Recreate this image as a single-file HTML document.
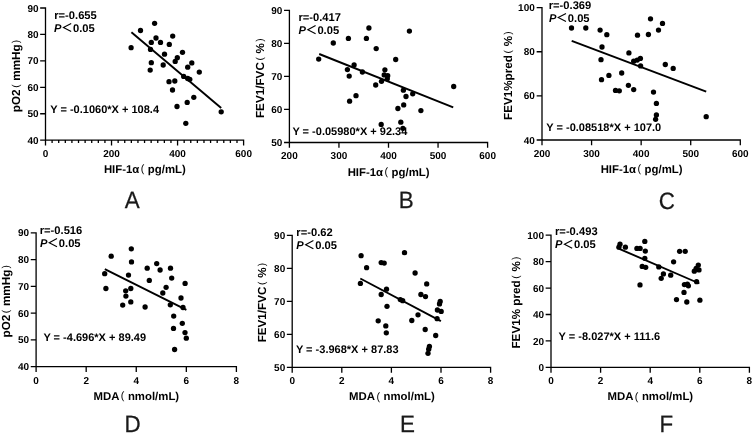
<!DOCTYPE html>
<html><head><meta charset="utf-8"><style>
html,body{margin:0;padding:0;background:#fff;}
body{width:753px;height:433px;overflow:hidden;}
svg{display:block;}
text{font-family:"Liberation Sans", sans-serif;fill:#000;}
.t{font-size:10px;font-weight:bold;}
.a{font-size:11.2px;font-weight:bold;}
.eq{font-size:11.02px;font-weight:bold;}
.xt{font-size:11.4px;font-weight:bold;}
.yt{font-size:11.7px;font-weight:bold;}
.fp{font-weight:normal;font-size:10.8px;}
.fpy{font-weight:normal;font-size:10px;}
.L{font-size:23.6px;font-weight:normal;fill:#1e1815;stroke:#1e1815;stroke-width:0.25px;}
</style></head><body>
<svg width="753" height="433" viewBox="0 0 753 433" style="filter:grayscale(1)">
<rect width="753" height="433" fill="#fff"/>
<path d="M45.5 8V144.9M40.8 140.2H243.6M40.8 140.2H45.5M40.8 113.76H45.5M40.8 87.32H45.5M40.8 60.88H45.5M40.8 34.44H45.5M40.8 8H45.5M45.5 140.2V144.9M111.53 140.2V144.9M177.57 140.2V144.9M243.6 140.2V144.9M52.1 140.2V142.3M58.71 140.2V142.3M65.31 140.2V142.3M71.91 140.2V142.3M78.52 140.2V142.3M85.12 140.2V142.3M91.72 140.2V142.3M98.33 140.2V142.3M104.93 140.2V142.3M118.14 140.2V142.3M124.74 140.2V142.3M131.34 140.2V142.3M137.95 140.2V142.3M144.55 140.2V142.3M151.15 140.2V142.3M157.76 140.2V142.3M164.36 140.2V142.3M170.96 140.2V142.3M184.17 140.2V142.3M190.77 140.2V142.3M197.38 140.2V142.3M203.98 140.2V142.3M210.58 140.2V142.3M217.19 140.2V142.3M223.79 140.2V142.3M230.39 140.2V142.3M237 140.2V142.3" fill="none" stroke="#000" stroke-width="1.3" stroke-linecap="square"/>
<path d="M131.4 32.2L221.2 108" stroke="#000" stroke-width="1.9" fill="none"/>
<circle cx="154.6" cy="23.3" r="2.65"/>
<circle cx="140.5" cy="30.5" r="2.65"/>
<circle cx="172.7" cy="36.1" r="2.65"/>
<circle cx="156" cy="38" r="2.65"/>
<circle cx="151.3" cy="42.4" r="2.65"/>
<circle cx="160.5" cy="42.4" r="2.65"/>
<circle cx="169.3" cy="44.4" r="2.65"/>
<circle cx="131.1" cy="47.7" r="2.65"/>
<circle cx="150.5" cy="49.4" r="2.65"/>
<circle cx="164.5" cy="54.2" r="2.65"/>
<circle cx="182.5" cy="52.3" r="2.65"/>
<circle cx="177.3" cy="57.7" r="2.65"/>
<circle cx="175.2" cy="61.4" r="2.65"/>
<circle cx="151.3" cy="62.7" r="2.65"/>
<circle cx="191.8" cy="62.9" r="2.65"/>
<circle cx="163.2" cy="65" r="2.65"/>
<circle cx="187.7" cy="67.2" r="2.65"/>
<circle cx="150.2" cy="70.1" r="2.65"/>
<circle cx="199.3" cy="72.1" r="2.65"/>
<circle cx="183.7" cy="76.4" r="2.65"/>
<circle cx="187.7" cy="78.5" r="2.65"/>
<circle cx="189.8" cy="79.3" r="2.65"/>
<circle cx="169" cy="81.7" r="2.65"/>
<circle cx="174.8" cy="81" r="2.65"/>
<circle cx="172.5" cy="90" r="2.65"/>
<circle cx="193.8" cy="97.3" r="2.65"/>
<circle cx="187.2" cy="102.4" r="2.65"/>
<circle cx="177" cy="106.5" r="2.65"/>
<circle cx="221.2" cy="111.8" r="2.65"/>
<circle cx="185.8" cy="123.3" r="2.65"/>
<text class="t" transform="matrix(1 0 0.001 1 38.5 143.75)" text-anchor="end">40</text>
<text class="t" transform="matrix(1 0 0.001 1 38.5 117.31)" text-anchor="end">50</text>
<text class="t" transform="matrix(1 0 0.001 1 38.5 90.87)" text-anchor="end">60</text>
<text class="t" transform="matrix(1 0 0.001 1 38.5 64.43)" text-anchor="end">70</text>
<text class="t" transform="matrix(1 0 0.001 1 38.5 37.99)" text-anchor="end">80</text>
<text class="t" transform="matrix(1 0 0.001 1 38.5 11.55)" text-anchor="end">90</text>
<text class="t" transform="matrix(1 0 0.001 1 45.5 157)" text-anchor="middle">0</text>
<text class="t" transform="matrix(1 0 0.001 1 111.53 157)" text-anchor="middle">200</text>
<text class="t" transform="matrix(1 0 0.001 1 177.57 157)" text-anchor="middle">400</text>
<text class="t" transform="matrix(1 0 0.001 1 243.6 157)" text-anchor="middle">600</text>
<text class="a" transform="matrix(1 0 0.001 1 54.2 18.9)">r=-0.655</text>
<text class="a" transform="matrix(1 0 0.001 1 54.1 31.6)"><tspan font-style="italic">P</tspan></text>
<path d="M71.2 23.4L63.4 27.45L71.2 31.5" fill="none" stroke="#000" stroke-width="1.1"/>
<text class="a" transform="matrix(1 0 0.001 1 73 31.6)">0.05</text>
<text class="eq" transform="matrix(1 0 0.001 1 50.2 112.6)">Y = -0.1060*X + 108.4</text>
<text class="xt" transform="matrix(1 0 0.001 1 144.85 172.5)" text-anchor="middle">HIF-1α<tspan class="fp" dx="1.4" dy="-0.7">(</tspan><tspan dx="3.5" dy="0.7">pg/mL)</tspan></text>
<text class="yt" transform="matrix(0 -1 1 -0.001 19.9 76)" text-anchor="middle">pO2<tspan class="fpy" dx="1.6" dy="-1.0">(</tspan><tspan dx="3.8" dy="1.0">mmHg</tspan><tspan class="fpy" dx="1.2" dy="-1.0">)</tspan></text>
<text class="L" transform="matrix(0.95 0 0.001 1 132.3 208.4)" text-anchor="middle">A</text>
<path d="M289.4 10.4V147.2M284.7 142.5H487.6M284.7 142.5H289.4M284.7 109.47H289.4M284.7 76.45H289.4M284.7 43.42H289.4M284.7 10.4H289.4M289.4 142.5V147.2M338.95 142.5V147.2M388.5 142.5V147.2M438.05 142.5V147.2M487.6 142.5V147.2" fill="none" stroke="#000" stroke-width="1.3" stroke-linecap="square"/>
<path d="M319.2 54L453.2 107.4" stroke="#000" stroke-width="1.9" fill="none"/>
<circle cx="368.9" cy="28" r="2.65"/>
<circle cx="348.4" cy="38.4" r="2.65"/>
<circle cx="366.4" cy="38.4" r="2.65"/>
<circle cx="333.3" cy="43" r="2.65"/>
<circle cx="376.2" cy="48.6" r="2.65"/>
<circle cx="318.7" cy="59.1" r="2.65"/>
<circle cx="395.7" cy="59.5" r="2.65"/>
<circle cx="354.1" cy="65" r="2.65"/>
<circle cx="347.4" cy="69.6" r="2.65"/>
<circle cx="362.4" cy="72" r="2.65"/>
<circle cx="349.2" cy="76.1" r="2.65"/>
<circle cx="384.9" cy="69.8" r="2.65"/>
<circle cx="384.2" cy="74.9" r="2.65"/>
<circle cx="387.7" cy="75.7" r="2.65"/>
<circle cx="387.3" cy="78.8" r="2.65"/>
<circle cx="381.5" cy="81.3" r="2.65"/>
<circle cx="375.7" cy="85" r="2.65"/>
<circle cx="403.4" cy="90.2" r="2.65"/>
<circle cx="412.7" cy="93.8" r="2.65"/>
<circle cx="406" cy="96.5" r="2.65"/>
<circle cx="453.7" cy="86.5" r="2.65"/>
<circle cx="403.7" cy="104.9" r="2.65"/>
<circle cx="397.9" cy="108.5" r="2.65"/>
<circle cx="420.9" cy="110.6" r="2.65"/>
<circle cx="356" cy="95.7" r="2.65"/>
<circle cx="349.6" cy="101.2" r="2.65"/>
<circle cx="400.8" cy="122.2" r="2.65"/>
<circle cx="381.2" cy="124.4" r="2.65"/>
<circle cx="402.9" cy="128.3" r="2.65"/>
<circle cx="409.4" cy="31.1" r="2.65"/>
<text class="t" transform="matrix(1 0 0.001 1 282.4 146.05)" text-anchor="end">50</text>
<text class="t" transform="matrix(1 0 0.001 1 282.4 113.02)" text-anchor="end">60</text>
<text class="t" transform="matrix(1 0 0.001 1 282.4 80)" text-anchor="end">70</text>
<text class="t" transform="matrix(1 0 0.001 1 282.4 46.97)" text-anchor="end">80</text>
<text class="t" transform="matrix(1 0 0.001 1 282.4 13.95)" text-anchor="end">90</text>
<text class="t" transform="matrix(1 0 0.001 1 289.4 159.3)" text-anchor="middle">200</text>
<text class="t" transform="matrix(1 0 0.001 1 338.95 159.3)" text-anchor="middle">300</text>
<text class="t" transform="matrix(1 0 0.001 1 388.5 159.3)" text-anchor="middle">400</text>
<text class="t" transform="matrix(1 0 0.001 1 438.05 159.3)" text-anchor="middle">500</text>
<text class="t" transform="matrix(1 0 0.001 1 487.6 159.3)" text-anchor="middle">600</text>
<text class="a" transform="matrix(1 0 0.001 1 298.4 20.8)">r=-0.417</text>
<text class="a" transform="matrix(1 0 0.001 1 298.5 33.8)"><tspan font-style="italic">P</tspan></text>
<path d="M315.6 25.6L307.8 29.65L315.6 33.7" fill="none" stroke="#000" stroke-width="1.1"/>
<text class="a" transform="matrix(1 0 0.001 1 317.4 33.8)">0.05</text>
<text class="eq" transform="matrix(1 0 0.001 1 292.4 134.8)">Y = -0.05980*X + 92.34</text>
<text class="xt" transform="matrix(1 0 0.001 1 388.6 175.5)" text-anchor="middle">HIF-1α<tspan class="fp" dx="1.4" dy="-0.7">(</tspan><tspan dx="3.5" dy="0.7">pg/mL)</tspan></text>
<text class="yt" transform="matrix(0 -1 1 -0.001 264 78.25)" text-anchor="middle">FEV1/FVC<tspan class="fpy" dx="1.6" dy="-1.0">(</tspan><tspan dx="3.8" dy="1.0">%</tspan><tspan class="fpy" dx="1.2" dy="-1.0">)</tspan></text>
<text class="L" transform="matrix(0.95 0 0.001 1 406.15 208.3)" text-anchor="middle">B</text>
<path d="M542 7.6V144.7M537.3 140H740.3M537.3 140H542M537.3 95.87H542M537.3 51.73H542M537.3 7.6H542M542 140V144.7M591.58 140V144.7M641.15 140V144.7M690.72 140V144.7M740.3 140V144.7" fill="none" stroke="#000" stroke-width="1.3" stroke-linecap="square"/>
<path d="M571.7 40.8L706.2 91.7" stroke="#000" stroke-width="1.9" fill="none"/>
<circle cx="571.5" cy="28" r="2.65"/>
<circle cx="585.8" cy="28" r="2.65"/>
<circle cx="600.1" cy="30.1" r="2.65"/>
<circle cx="606.8" cy="34.7" r="2.65"/>
<circle cx="650.5" cy="18.8" r="2.65"/>
<circle cx="662.5" cy="23.4" r="2.65"/>
<circle cx="658.5" cy="30.1" r="2.65"/>
<circle cx="637.5" cy="35.2" r="2.65"/>
<circle cx="648.4" cy="34.5" r="2.65"/>
<circle cx="602" cy="47" r="2.65"/>
<circle cx="628.9" cy="52.9" r="2.65"/>
<circle cx="601" cy="59.7" r="2.65"/>
<circle cx="633.7" cy="61.2" r="2.65"/>
<circle cx="637.2" cy="60.1" r="2.65"/>
<circle cx="640.4" cy="58.4" r="2.65"/>
<circle cx="640.6" cy="65.9" r="2.65"/>
<circle cx="665.3" cy="64.5" r="2.65"/>
<circle cx="673.2" cy="68.4" r="2.65"/>
<circle cx="621.7" cy="73" r="2.65"/>
<circle cx="608.9" cy="75.4" r="2.65"/>
<circle cx="601.5" cy="79.7" r="2.65"/>
<circle cx="628.4" cy="85.3" r="2.65"/>
<circle cx="633.7" cy="89.6" r="2.65"/>
<circle cx="615.5" cy="90.4" r="2.65"/>
<circle cx="619.3" cy="90.8" r="2.65"/>
<circle cx="653.5" cy="92.1" r="2.65"/>
<circle cx="656.4" cy="103.4" r="2.65"/>
<circle cx="656.4" cy="115" r="2.65"/>
<circle cx="655.6" cy="119.3" r="2.65"/>
<circle cx="706.2" cy="116.7" r="2.65"/>
<text class="t" transform="matrix(1 0 0.001 1 534.8 143.55)" text-anchor="end">40</text>
<text class="t" transform="matrix(1 0 0.001 1 534.8 99.42)" text-anchor="end">60</text>
<text class="t" transform="matrix(1 0 0.001 1 534.8 55.28)" text-anchor="end">80</text>
<text class="t" transform="matrix(1 0 0.001 1 534.8 11.15)" text-anchor="end">100</text>
<text class="t" transform="matrix(1 0 0.001 1 542 156.8)" text-anchor="middle">200</text>
<text class="t" transform="matrix(1 0 0.001 1 591.58 156.8)" text-anchor="middle">300</text>
<text class="t" transform="matrix(1 0 0.001 1 641.15 156.8)" text-anchor="middle">400</text>
<text class="t" transform="matrix(1 0 0.001 1 690.72 156.8)" text-anchor="middle">500</text>
<text class="t" transform="matrix(1 0 0.001 1 740.3 156.8)" text-anchor="middle">600</text>
<text class="a" transform="matrix(1 0 0.001 1 548.7 8.7)">r=-0.369</text>
<text class="a" transform="matrix(1 0 0.001 1 548.9 21.7)"><tspan font-style="italic">P</tspan></text>
<path d="M566 13.5L558.2 17.55L566 21.6" fill="none" stroke="#000" stroke-width="1.1"/>
<text class="a" transform="matrix(1 0 0.001 1 567.8 21.7)">0.05</text>
<text class="eq" transform="matrix(1 0 0.001 1 546.3 130.7)">Y = -0.08518*X + 107.0</text>
<text class="xt" transform="matrix(1 0 0.001 1 641.6 173)" text-anchor="middle">HIF-1α<tspan class="fp" dx="1.4" dy="-0.7">(</tspan><tspan dx="3.5" dy="0.7">pg/mL)</tspan></text>
<text class="yt" transform="matrix(0 -1 1 -0.001 512.3 75.7)" text-anchor="middle">FEV1%pred<tspan class="fpy" dx="1.6" dy="-1.0">(</tspan><tspan dx="3.8" dy="1.0">%</tspan><tspan class="fpy" dx="1.2" dy="-1.0">)</tspan></text>
<text class="L" transform="matrix(0.95 0 0.001 1 666.75 208.7)" text-anchor="middle">C</text>
<path d="M36.1 232.9V371.4M31.4 366.7H236.4M31.4 366.7H36.1M31.4 339.94H36.1M31.4 313.18H36.1M31.4 286.42H36.1M31.4 259.66H36.1M31.4 232.9H36.1M36.1 366.7V371.4M86.18 366.7V371.4M136.25 366.7V371.4M186.33 366.7V371.4M236.4 366.7V371.4" fill="none" stroke="#000" stroke-width="1.3" stroke-linecap="square"/>
<path d="M104.8 269.2L186.4 309.8" stroke="#000" stroke-width="1.9" fill="none"/>
<circle cx="131.3" cy="248.8" r="2.65"/>
<circle cx="111.2" cy="256.2" r="2.65"/>
<circle cx="131.5" cy="261.9" r="2.65"/>
<circle cx="156.7" cy="263.6" r="2.65"/>
<circle cx="147.2" cy="268.2" r="2.65"/>
<circle cx="160.1" cy="270" r="2.65"/>
<circle cx="170.5" cy="268.2" r="2.65"/>
<circle cx="104.7" cy="273.7" r="2.65"/>
<circle cx="128.5" cy="275.1" r="2.65"/>
<circle cx="171.7" cy="278.1" r="2.65"/>
<circle cx="149.3" cy="280.4" r="2.65"/>
<circle cx="185.1" cy="283.4" r="2.65"/>
<circle cx="166.1" cy="287.3" r="2.65"/>
<circle cx="105.9" cy="288.5" r="2.65"/>
<circle cx="130.8" cy="288.5" r="2.65"/>
<circle cx="125.7" cy="290.8" r="2.65"/>
<circle cx="162.8" cy="293" r="2.65"/>
<circle cx="125.9" cy="296.1" r="2.65"/>
<circle cx="181" cy="298" r="2.65"/>
<circle cx="130.8" cy="301.9" r="2.65"/>
<circle cx="122.7" cy="305.1" r="2.65"/>
<circle cx="170.3" cy="304.8" r="2.65"/>
<circle cx="145.1" cy="307" r="2.65"/>
<circle cx="183" cy="307.5" r="2.65"/>
<circle cx="173.7" cy="316.1" r="2.65"/>
<circle cx="182.3" cy="323.3" r="2.65"/>
<circle cx="173.5" cy="328.4" r="2.65"/>
<circle cx="185" cy="332.6" r="2.65"/>
<circle cx="186.3" cy="338.2" r="2.65"/>
<circle cx="174.6" cy="349.5" r="2.65"/>
<text class="t" transform="matrix(1 0 0.001 1 29.1 370.25)" text-anchor="end">40</text>
<text class="t" transform="matrix(1 0 0.001 1 29.1 343.49)" text-anchor="end">50</text>
<text class="t" transform="matrix(1 0 0.001 1 29.1 316.73)" text-anchor="end">60</text>
<text class="t" transform="matrix(1 0 0.001 1 29.1 289.97)" text-anchor="end">70</text>
<text class="t" transform="matrix(1 0 0.001 1 29.1 263.21)" text-anchor="end">80</text>
<text class="t" transform="matrix(1 0 0.001 1 29.1 236.45)" text-anchor="end">90</text>
<text class="t" transform="matrix(1 0 0.001 1 36.1 383.5)" text-anchor="middle">0</text>
<text class="t" transform="matrix(1 0 0.001 1 86.18 383.5)" text-anchor="middle">2</text>
<text class="t" transform="matrix(1 0 0.001 1 136.25 383.5)" text-anchor="middle">4</text>
<text class="t" transform="matrix(1 0 0.001 1 186.33 383.5)" text-anchor="middle">6</text>
<text class="t" transform="matrix(1 0 0.001 1 236.4 383.5)" text-anchor="middle">8</text>
<text class="a" transform="matrix(1 0 0.001 1 39.7 233.7)">r=-0.516</text>
<text class="a" transform="matrix(1 0 0.001 1 39.9 246.8)"><tspan font-style="italic">P</tspan></text>
<path d="M57 238.6L49.2 242.65L57 246.7" fill="none" stroke="#000" stroke-width="1.1"/>
<text class="a" transform="matrix(1 0 0.001 1 58.8 246.8)">0.05</text>
<text class="eq" transform="matrix(1 0 0.001 1 43.4 340.8)">Y = -4.696*X + 89.49</text>
<text class="xt" transform="matrix(1 0 0.001 1 136.3 399.9)" text-anchor="middle">MDA<tspan class="fp" dx="1.4" dy="-0.7">(</tspan><tspan dx="3.5" dy="0.7">nmol/mL)</tspan></text>
<text class="yt" transform="matrix(0 -1 1 -0.001 10 301.3)" text-anchor="middle">pO2<tspan class="fpy" dx="1.6" dy="-1.0">(</tspan><tspan dx="3.8" dy="1.0">mmHg</tspan><tspan class="fpy" dx="1.2" dy="-1.0">)</tspan></text>
<text class="L" transform="matrix(0.95 0 0.001 1 132.55 431.8)" text-anchor="middle">D</text>
<path d="M292.2 235.4V372.1M287.5 367.4H490.6M287.5 367.4H292.2M287.5 334.4H292.2M287.5 301.4H292.2M287.5 268.4H292.2M287.5 235.4H292.2M292.2 367.4V372.1M341.8 367.4V372.1M391.4 367.4V372.1M441 367.4V372.1M490.6 367.4V372.1" fill="none" stroke="#000" stroke-width="1.3" stroke-linecap="square"/>
<path d="M360.3 278.5L440.9 321.1" stroke="#000" stroke-width="1.9" fill="none"/>
<circle cx="404.5" cy="252.7" r="2.65"/>
<circle cx="361.1" cy="255.7" r="2.65"/>
<circle cx="381.2" cy="262.6" r="2.65"/>
<circle cx="384.2" cy="263.1" r="2.65"/>
<circle cx="366.6" cy="267.7" r="2.65"/>
<circle cx="415.1" cy="273" r="2.65"/>
<circle cx="360.4" cy="283.4" r="2.65"/>
<circle cx="426.7" cy="283.9" r="2.65"/>
<circle cx="386.5" cy="289.2" r="2.65"/>
<circle cx="381.2" cy="294.5" r="2.65"/>
<circle cx="420.9" cy="294.5" r="2.65"/>
<circle cx="425.5" cy="296.6" r="2.65"/>
<circle cx="400.3" cy="299.6" r="2.65"/>
<circle cx="402.7" cy="300.7" r="2.65"/>
<circle cx="440.2" cy="301.4" r="2.65"/>
<circle cx="439.5" cy="303.9" r="2.65"/>
<circle cx="387" cy="306.3" r="2.65"/>
<circle cx="437.4" cy="310" r="2.65"/>
<circle cx="441.2" cy="311.4" r="2.65"/>
<circle cx="418" cy="314.8" r="2.65"/>
<circle cx="437.1" cy="318.7" r="2.65"/>
<circle cx="411.8" cy="320.5" r="2.65"/>
<circle cx="378.2" cy="320.8" r="2.65"/>
<circle cx="385.8" cy="325.9" r="2.65"/>
<circle cx="386.3" cy="332.8" r="2.65"/>
<circle cx="425.2" cy="329.5" r="2.65"/>
<circle cx="435.7" cy="335.5" r="2.65"/>
<circle cx="429.4" cy="346.4" r="2.65"/>
<circle cx="428.7" cy="349.2" r="2.65"/>
<circle cx="428" cy="353.3" r="2.65"/>
<text class="t" transform="matrix(1 0 0.001 1 285.2 370.95)" text-anchor="end">50</text>
<text class="t" transform="matrix(1 0 0.001 1 285.2 337.95)" text-anchor="end">60</text>
<text class="t" transform="matrix(1 0 0.001 1 285.2 304.95)" text-anchor="end">70</text>
<text class="t" transform="matrix(1 0 0.001 1 285.2 271.95)" text-anchor="end">80</text>
<text class="t" transform="matrix(1 0 0.001 1 285.2 238.95)" text-anchor="end">90</text>
<text class="t" transform="matrix(1 0 0.001 1 292.2 384.2)" text-anchor="middle">0</text>
<text class="t" transform="matrix(1 0 0.001 1 341.8 384.2)" text-anchor="middle">2</text>
<text class="t" transform="matrix(1 0 0.001 1 391.4 384.2)" text-anchor="middle">4</text>
<text class="t" transform="matrix(1 0 0.001 1 441 384.2)" text-anchor="middle">6</text>
<text class="t" transform="matrix(1 0 0.001 1 490.6 384.2)" text-anchor="middle">8</text>
<text class="a" transform="matrix(1 0 0.001 1 296.3 235.5)">r=-0.62</text>
<text class="a" transform="matrix(1 0 0.001 1 296.3 248.8)"><tspan font-style="italic">P</tspan></text>
<path d="M313.4 240.6L305.6 244.65L313.4 248.7" fill="none" stroke="#000" stroke-width="1.1"/>
<text class="a" transform="matrix(1 0 0.001 1 315.2 248.8)">0.05</text>
<text class="eq" transform="matrix(1 0 0.001 1 295.9 352.5)">Y = -3.968*X + 87.83</text>
<text class="xt" transform="matrix(1 0 0.001 1 391.9 400.4)" text-anchor="middle">MDA<tspan class="fp" dx="1.4" dy="-0.7">(</tspan><tspan dx="3.5" dy="0.7">nmol/mL)</tspan></text>
<text class="yt" transform="matrix(0 -1 1 -0.001 265.8 302.6)" text-anchor="middle">FEV1/FVC<tspan class="fpy" dx="1.6" dy="-1.0">(</tspan><tspan dx="3.8" dy="1.0">%</tspan><tspan class="fpy" dx="1.2" dy="-1.0">)</tspan></text>
<text class="L" transform="matrix(0.95 0 0.001 1 407.55 432.3)" text-anchor="middle">E</text>
<path d="M551 235.2V372.1M546.3 367.4H749.4M546.3 367.4H551M546.3 340.96H551M546.3 314.52H551M546.3 288.08H551M546.3 261.64H551M546.3 235.2H551M551 367.4V372.1M600.6 367.4V372.1M650.2 367.4V372.1M699.8 367.4V372.1M749.4 367.4V372.1" fill="none" stroke="#000" stroke-width="1.3" stroke-linecap="square"/>
<path d="M618.7 248.6L699.4 283.5" stroke="#000" stroke-width="1.9" fill="none"/>
<circle cx="644.8" cy="241.4" r="2.65"/>
<circle cx="620" cy="244.2" r="2.65"/>
<circle cx="618.9" cy="247.2" r="2.65"/>
<circle cx="625.4" cy="247.2" r="2.65"/>
<circle cx="636.9" cy="248.4" r="2.65"/>
<circle cx="640.1" cy="248.4" r="2.65"/>
<circle cx="645.3" cy="251.1" r="2.65"/>
<circle cx="679.6" cy="251.3" r="2.65"/>
<circle cx="685.2" cy="251.3" r="2.65"/>
<circle cx="644.8" cy="258.3" r="2.65"/>
<circle cx="673.6" cy="261.8" r="2.65"/>
<circle cx="698.3" cy="265.1" r="2.65"/>
<circle cx="642.2" cy="266.4" r="2.65"/>
<circle cx="645.7" cy="267.3" r="2.65"/>
<circle cx="658.8" cy="266.9" r="2.65"/>
<circle cx="696.2" cy="268.3" r="2.65"/>
<circle cx="699" cy="269.9" r="2.65"/>
<circle cx="694.3" cy="271.2" r="2.65"/>
<circle cx="663.4" cy="273.9" r="2.65"/>
<circle cx="670.7" cy="275.2" r="2.65"/>
<circle cx="661.2" cy="278.3" r="2.65"/>
<circle cx="696.6" cy="281.7" r="2.65"/>
<circle cx="640" cy="284.9" r="2.65"/>
<circle cx="684.4" cy="284.6" r="2.65"/>
<circle cx="687.4" cy="284.1" r="2.65"/>
<circle cx="688.4" cy="285.8" r="2.65"/>
<circle cx="684" cy="292.4" r="2.65"/>
<circle cx="676.5" cy="299.6" r="2.65"/>
<circle cx="686.8" cy="302" r="2.65"/>
<circle cx="699.9" cy="300.2" r="2.65"/>
<text class="t" transform="matrix(1 0 0.001 1 544 370.95)" text-anchor="end">0</text>
<text class="t" transform="matrix(1 0 0.001 1 544 344.51)" text-anchor="end">20</text>
<text class="t" transform="matrix(1 0 0.001 1 544 318.07)" text-anchor="end">40</text>
<text class="t" transform="matrix(1 0 0.001 1 544 291.63)" text-anchor="end">60</text>
<text class="t" transform="matrix(1 0 0.001 1 544 265.19)" text-anchor="end">80</text>
<text class="t" transform="matrix(1 0 0.001 1 544 238.75)" text-anchor="end">100</text>
<text class="t" transform="matrix(1 0 0.001 1 551 384.2)" text-anchor="middle">0</text>
<text class="t" transform="matrix(1 0 0.001 1 600.6 384.2)" text-anchor="middle">2</text>
<text class="t" transform="matrix(1 0 0.001 1 650.2 384.2)" text-anchor="middle">4</text>
<text class="t" transform="matrix(1 0 0.001 1 699.8 384.2)" text-anchor="middle">6</text>
<text class="t" transform="matrix(1 0 0.001 1 749.4 384.2)" text-anchor="middle">8</text>
<text class="a" transform="matrix(1 0 0.001 1 555 235.3)">r=-0.493</text>
<text class="a" transform="matrix(1 0 0.001 1 555.1 248.4)"><tspan font-style="italic">P</tspan></text>
<path d="M572.2 240.2L564.4 244.25L572.2 248.3" fill="none" stroke="#000" stroke-width="1.1"/>
<text class="a" transform="matrix(1 0 0.001 1 574 248.4)">0.05</text>
<text class="eq" transform="matrix(1 0 0.001 1 558.6 340.4)">Y = -8.027*X + 111.6</text>
<text class="xt" transform="matrix(1 0 0.001 1 650.3 400.4)" text-anchor="middle">MDA<tspan class="fp" dx="1.4" dy="-0.7">(</tspan><tspan dx="3.5" dy="0.7">nmol/mL)</tspan></text>
<text class="yt" transform="matrix(0 -1 1 -0.001 520 302.6)" text-anchor="middle">FEV1% pred<tspan class="fpy" dx="1.6" dy="-1.0">(</tspan><tspan dx="3.8" dy="1.0">%</tspan><tspan class="fpy" dx="1.2" dy="-1.0">)</tspan></text>
<text class="L" transform="matrix(0.95 0 0.001 1 666.45 432.3)" text-anchor="middle">F</text>
</svg>
</body></html>
